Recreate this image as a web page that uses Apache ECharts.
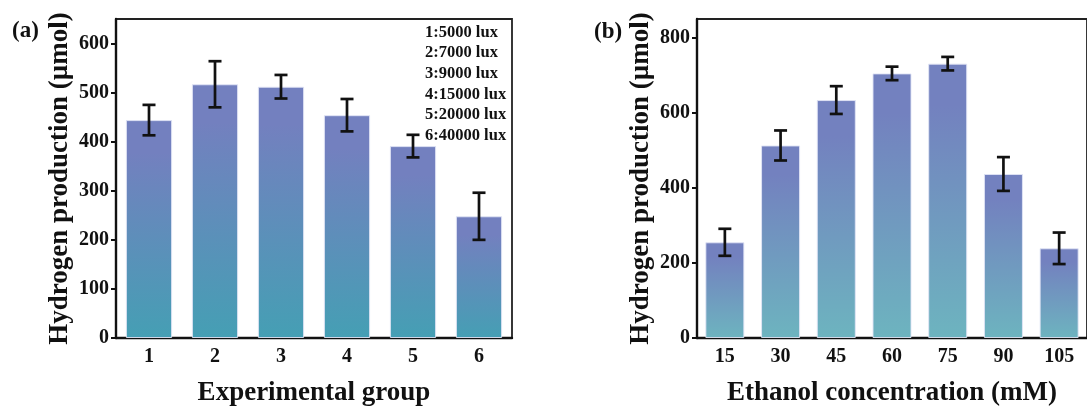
<!DOCTYPE html>
<html>
<head>
<meta charset="utf-8">
<script src="https://cdn.jsdelivr.net/npm/echarts@6/dist/echarts.min.js"></script>
<style>
  html, body { margin: 0; padding: 0; background: #ffffff; }
  #chart { width: 1087px; height: 412px; }
</style>
</head>
<body>
<div id="chart"></div>
<script>
// Panel (a): light intensity groups
const groupsA = ['1', '2', '3', '4', '5', '6'];
const valuesA = [444, 517, 512, 454, 391, 248];
const errA = [31, 47, 24, 33, 23, 48];
const ticksA = [0, 100, 200, 300, 400, 500, 600];
const luxLabels = ['1:5000 lux', '2:7000 lux', '3:9000 lux', '4:15000 lux', '5:20000 lux', '6:40000 lux'];

// Panel (b): ethanol concentration
const concB = ['15', '30', '45', '60', '75', '90', '105'];
const valuesB = [255, 513, 634, 705, 731, 437, 239];
const errB = [36, 40, 37, 18, 18, 45, 42];
const ticksB = [0, 200, 400, 600, 800];

const FONT = '"Liberation Serif", "Times New Roman", serif';

function barGradient(top, bottom) {
  return new echarts.graphic.LinearGradient(0, 0, 0, 1, [
    { offset: 0, color: top },
    { offset: 0.15, color: top },
    { offset: 1, color: bottom }
  ]);
}

function errorSeries(xIdx, yIdx, values, errs) {
  return {
    type: 'custom',
    xAxisIndex: xIdx,
    yAxisIndex: yIdx,
    data: values.map((v, i) => [i, v - errs[i], v + errs[i]]),
    z: 10,
    renderItem: function (params, api) {
      const lo = api.coord([api.value(0), api.value(1)]);
      const hi = api.coord([api.value(0), api.value(2)]);
      const half = 6.5;
      const style = { stroke: '#111', lineWidth: 2.7, fill: null };
      return {
        type: 'group',
        children: [
          { type: 'line', shape: { x1: lo[0], y1: lo[1], x2: hi[0], y2: hi[1] }, style },
          { type: 'line', shape: { x1: lo[0] - half, y1: lo[1], x2: lo[0] + half, y2: lo[1] }, style },
          { type: 'line', shape: { x1: hi[0] - half, y1: hi[1], x2: hi[0] + half, y2: hi[1] }, style }
        ]
      };
    }
  };
}

function catAxis(gridIndex, cats, name) {
  return {
    type: 'category',
    gridIndex,
    data: cats,
    name,
    nameLocation: 'middle',
    nameGap: 42,
    nameTextStyle: { fontFamily: FONT, fontWeight: 'bold', fontSize: 27, color: '#111' },
    axisLine: { lineStyle: { color: '#111', width: 2.4 } },
    axisTick: { show: false },
    axisLabel: { fontFamily: FONT, fontWeight: 'bold', fontSize: 20, color: '#111', margin: 9 },
    splitLine: { show: false }
  };
}

function valAxis(gridIndex, max, ticks, nameGap) {
  return {
    type: 'value',
    gridIndex,
    min: 0,
    max,
    name: 'Hydrogen production (µmol)',
    nameLocation: 'middle',
    nameRotate: 90,
    nameGap,
    nameTextStyle: { fontFamily: FONT, fontWeight: 'bold', fontSize: 27, color: '#111' },
    axisLine: { show: true, lineStyle: { color: '#111', width: 2.4 } },
    axisTick: { show: true, inside: false, length: 5, customValues: ticks, lineStyle: { color: '#111', width: 2 } },
    axisLabel: { customValues: ticks, fontFamily: FONT, fontWeight: 'bold', fontSize: 20, color: '#111', margin: 7 },
    splitLine: { show: false }
  };
}

const chart = echarts.init(document.getElementById('chart'), null, { renderer: 'canvas' });

chart.setOption({
  backgroundColor: '#ffffff',
  animation: false,
  grid: [
    { left: 116, top: 19, width: 396, height: 319, show: true, borderColor: '#222', borderWidth: 1.8, backgroundColor: 'transparent' },
    { left: 697, top: 19, width: 396, height: 320, show: true, borderColor: '#222', borderWidth: 1.8, backgroundColor: 'transparent' }
  ],
  xAxis: [
    catAxis(0, groupsA, 'Experimental group'),
    catAxis(1, concB, 'Ethanol concentration (mM)')
  ],
  yAxis: [
    valAxis(0, 650, ticksA, 42),
    valAxis(1, 850, ticksB, 42)
  ],
  series: [
    {
      type: 'bar',
      xAxisIndex: 0,
      yAxisIndex: 0,
      data: valuesA,
      barCategoryGap: '30%',
      itemStyle: {
        color: barGradient('#7380bf', '#459fb4'),
        borderColor: 'rgba(225,228,245,0.9)',
        borderWidth: 1
      }
    },
    errorSeries(0, 0, valuesA, errA),
    {
      type: 'bar',
      xAxisIndex: 1,
      yAxisIndex: 1,
      data: valuesB,
      barCategoryGap: '30%',
      itemStyle: {
        color: barGradient('#7381bf', '#6db4bf'),
        borderColor: 'rgba(225,228,245,0.9)',
        borderWidth: 1
      }
    },
    errorSeries(1, 1, valuesB, errB)
  ],
  graphic: [
    { type: 'text', left: 12, top: 20, style: { text: '(a)', font: 'bold 23px ' + FONT, fill: '#111' } },
    { type: 'text', left: 594, top: 21, style: { text: '(b)', font: 'bold 23px ' + FONT, fill: '#111' } },
    {
      type: 'text',
      left: 425,
      top: 22,
      style: { text: luxLabels.join('\n'), font: 'bold 16.5px ' + FONT, lineHeight: 20.7, fill: '#111' }
    }
  ]
});
</script>
</body>
</html>
